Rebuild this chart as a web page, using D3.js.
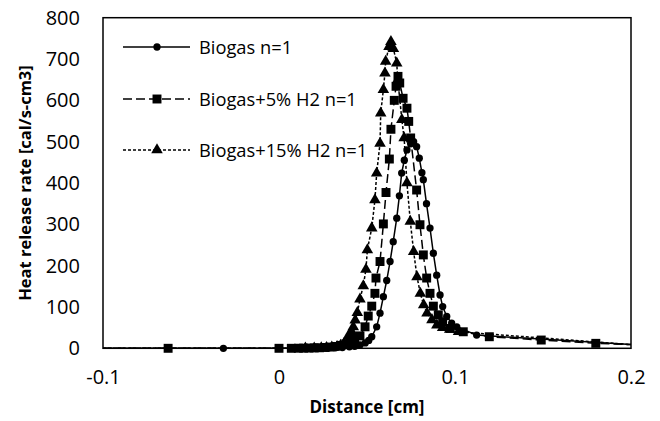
<!DOCTYPE html>
<html>
<head>
<meta charset="utf-8">
<script src="https://cdn.jsdelivr.net/npm/d3@7"></script>
<style>
  body { margin: 0; background: #fff; }
  text { font-family: "Open Sans", "Liberation Sans", sans-serif; fill: #000; }
</style>
</head>
<body>
<div id="chart"></div>
<script>
// series data: distance [cm] and heat release rate [cal/s-cm3]
var biogasX = [-0.1, -0.0316, 0.0, 0.012, 0.016, 0.02, 0.024, 0.028, 0.032, 0.036, 0.04, 0.043, 0.046, 0.049, 0.051,
  0.0527, 0.0555, 0.0574, 0.0593, 0.0612, 0.0631, 0.0649, 0.0669, 0.0684, 0.0697, 0.0712, 0.0727, 0.0748, 0.0765,
  0.0782, 0.0797, 0.0812, 0.082, 0.0838, 0.0858, 0.0877, 0.0896, 0.0915, 0.093, 0.0953, 0.0981, 0.101, 0.1123, 0.2];
var biogasY = [0, 0, 0, 0.1, 0.2, 0.3, 0.5, 0.8, 1.2, 2, 3.5, 5, 8, 13, 19,
  28, 52, 85, 125, 164, 210, 258, 315, 369, 424, 455, 480, 495, 500,
  488, 460, 425, 408, 350, 291, 230, 177, 129, 101, 77, 61, 52, 32, 9];

var h2_5X = [-0.1, -0.063, 0.0, 0.007, 0.011, 0.014, 0.017, 0.02, 0.023, 0.026, 0.029, 0.032, 0.035, 0.038, 0.041, 0.043,
  0.046, 0.0489, 0.0507, 0.0527, 0.0545, 0.0551, 0.0574, 0.0593, 0.0608, 0.0627, 0.0636, 0.0655, 0.0665, 0.0676,
  0.0686, 0.0705, 0.0727, 0.0737, 0.0748, 0.0782, 0.0801, 0.082, 0.0839, 0.0858, 0.0877, 0.0905, 0.093, 0.0972,
  0.1047, 0.1195, 0.149, 0.18, 0.2];
var h2_5Y = [0, 0, 0, 0, 0.2, 0.4, 0.6, 0.9, 1.3, 2, 3, 4.5, 7, 11, 16, 22,
  30, 52, 78, 102, 133, 170, 210, 301, 377, 458, 530, 600, 634, 658,
  642, 605, 581, 549, 509, 383, 299, 226, 170, 133, 102, 81, 64, 48,
  40, 28, 20, 12, 9];

var h2_15X = [-0.1, 0.015, 0.02, 0.024, 0.027, 0.03, 0.033, 0.035, 0.037, 0.0394, 0.0413, 0.0422, 0.0433, 0.0445,
  0.046, 0.0479, 0.0494, 0.0502, 0.0527, 0.0545, 0.0555, 0.0574, 0.0578, 0.0593, 0.0602, 0.0606, 0.0625, 0.0636,
  0.065, 0.0669, 0.0675, 0.0698, 0.0711, 0.0727, 0.0746, 0.0765, 0.0784, 0.0803, 0.0822, 0.0841, 0.0869, 0.0897,
  0.093, 0.097, 0.102, 0.2];
var h2_15Y = [0, 0.2, 0.5, 1, 1.5, 2.5, 4, 7, 12, 30, 40, 52, 68, 86,
  119, 151, 191, 238, 291, 359, 424, 496, 569, 626, 666, 694, 730, 742,
  725, 690, 650, 553, 509, 400, 307, 234, 173, 133, 105, 85, 69, 56,
  50, 46, 40, 9];

var seriesNames = ['Biogas n=1', 'Biogas+5% H2 n=1', 'Biogas+15% H2 n=1'];
var xTicks = [-0.1, 0, 0.1, 0.2];
var yTicks = [0, 100, 200, 300, 400, 500, 600, 700, 800];

(function () {
  var width = 660, height = 421;
  var plotLeft = 103, plotRight = 631, plotTop = 17.7, plotBottom = 348.3;

  var svg = d3.select('#chart').append('svg')
    .attr('width', width)
    .attr('height', height);

  svg.append('rect').attr('width', width).attr('height', height).attr('fill', '#fff');

  var x = d3.scaleLinear().domain([-0.1, 0.2]).range([plotLeft, plotRight]);
  var y = d3.scaleLinear().domain([0, 800]).range([plotBottom, plotTop]);

  function zip(xs, ys) {
    return xs.map(function (v, i) { return { x: v, y: ys[i] }; });
  }

  var series = [
    { name: seriesNames[0], pts: zip(biogasX, biogasY), dash: null, marker: 'circle' },
    { name: seriesNames[1], pts: zip(h2_5X, h2_5Y), dash: '9,4', marker: 'square' },
    { name: seriesNames[2], pts: zip(h2_15X, h2_15Y), dash: '3,2', marker: 'triangle' }
  ];

  // axes: labels only, no tick marks
  var xAxis = svg.append('g').attr('transform', 'translate(0,' + plotBottom + ')')
    .call(d3.axisBottom(x).tickValues(xTicks).tickSize(0).tickPadding(22)
      .tickFormat(function (d) { return d === 0 ? '0' : String(d); }));
  xAxis.select('.domain').remove();
  xAxis.selectAll('text').style('font-size', '20px').attr('fill', '#000');

  var yAxis = svg.append('g').attr('transform', 'translate(' + plotLeft + ',0)')
    .call(d3.axisLeft(y).tickValues(yTicks).tickSize(0).tickPadding(23));
  yAxis.select('.domain').remove();
  yAxis.selectAll('text').style('font-size', '20px').attr('fill', '#000');

  var line = d3.line().x(function (d) { return x(d.x); }).y(function (d) { return y(d.y); });

  var symbols = {
    circle: d3.symbol().type(d3.symbolCircle).size(42),
    square: d3.symbol().type(d3.symbolSquare).size(80),
    triangle: d3.symbol().type(d3.symbolTriangle).size(58)
  };

  var plot = svg.append('g');

  series.forEach(function (s) {
    plot.append('path')
      .datum(s.pts)
      .attr('d', line)
      .attr('fill', 'none')
      .attr('stroke', '#000')
      .attr('stroke-width', 1.5)
      .attr('stroke-dasharray', s.dash);

    plot.selectAll('.m-' + s.marker)
      .data(s.pts.filter(function (d) { return d.x > -0.1 && d.x < 0.2; }))
      .enter().append('path')
      .attr('class', 'm-' + s.marker)
      .attr('transform', function (d) { return 'translate(' + x(d.x) + ',' + y(d.y) + ')'; })
      .attr('d', symbols[s.marker])
      .attr('fill', '#000');
  });

  // plot frame
  svg.append('rect')
    .attr('x', plotLeft).attr('y', plotTop)
    .attr('width', plotRight - plotLeft).attr('height', plotBottom - plotTop)
    .attr('fill', 'none').attr('stroke', '#000').attr('stroke-width', 1.5);

  // legend
  var legendRows = [47, 99, 150];
  series.forEach(function (s, i) {
    var g = svg.append('g').attr('transform', 'translate(0,' + legendRows[i] + ')');
    g.append('line').attr('x1', 123).attr('x2', 190).attr('y1', 0).attr('y2', 0)
      .attr('stroke', '#000').attr('stroke-width', 1.5).attr('stroke-dasharray', s.dash);
    g.append('path').attr('transform', 'translate(157,0)').attr('d', symbols[s.marker]).attr('fill', '#000');
    g.append('text').attr('x', 199).attr('y', 7).style('font-size', '18.3px').text(s.name);
  });

  // axis titles
  svg.append('text')
    .attr('x', (plotLeft + plotRight) / 2).attr('y', 413)
    .attr('text-anchor', 'middle')
    .style('font-size', '17px').style('font-weight', 'bold')
    .text('Distance [cm]');

  svg.append('text')
    .attr('transform', 'translate(31,' + (plotTop + plotBottom) / 2 + ') rotate(-90)')
    .attr('text-anchor', 'middle')
    .style('font-size', '16.5px').style('font-weight', 'bold')
    .text('Heat release rate [cal/s-cm3]');
})();
</script>
</body>
</html>
